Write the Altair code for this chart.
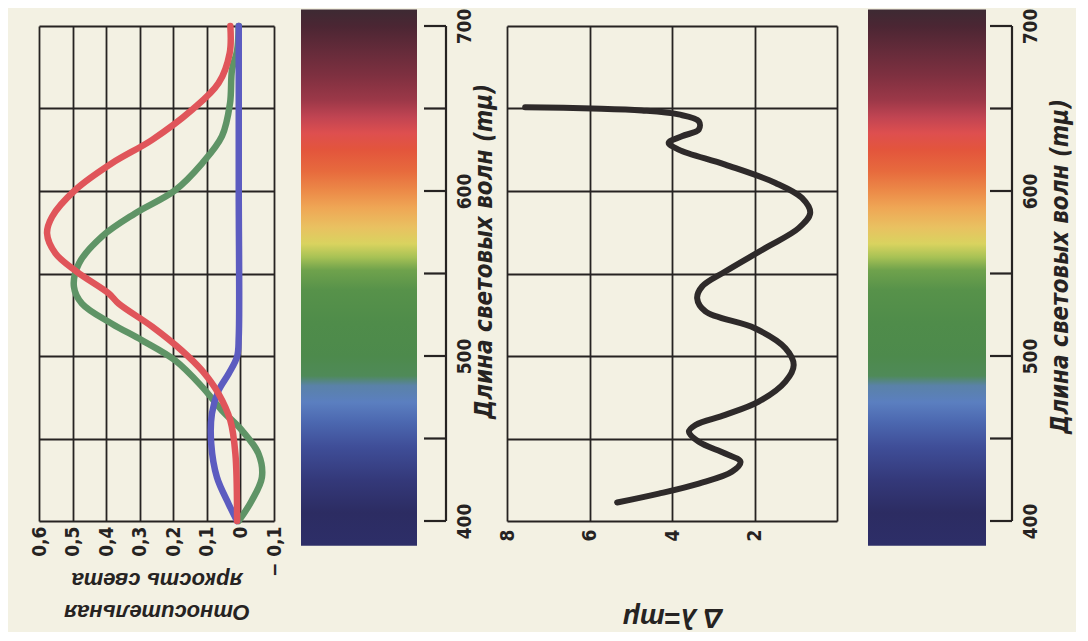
import altair as alt
import pandas as pd

# ---------------- data ----------------
# left panel: relative brightness of the three primaries vs wavelength (mμ)
red_nm = [700, 683.6, 665.4, 649.2, 631, 616.8, 600.6, 584.4, 574.3, 562.2, 551, 537.9,
          531.8, 517.8, 503.2, 491.1, 477.1, 460.9, 440.7, 400]
red_val = [0.030, 0.032, 0.065, 0.144, 0.263, 0.383, 0.492, 0.561, 0.576, 0.551, 0.487, 0.392,
           0.363, 0.263, 0.174, 0.114, 0.065, 0.030, 0.015, 0.010]

green_nm = [700, 685, 673.5, 653.2, 633.2, 616.8, 600.4, 586.4, 572.5, 556.1, 542.1, 531.8,
            519.6, 509.5, 497.4, 481.3, 467, 454.8, 440.7, 426.5, 412.4, 400]
green_val = [0.005, 0.010, 0.025, 0.031, 0.055, 0.114, 0.195, 0.314, 0.412, 0.481, 0.496, 0.472,
             0.383, 0.293, 0.195, 0.114, 0.055, -0.005, -0.054, -0.064, -0.034, 0.005]

blue_nm = [700, 600, 511.7, 499.6, 489.3, 479.1, 465, 446.8, 426.5, 410.3, 400]
blue_val = [0.005, 0.005, 0.005, 0.010, 0.035, 0.065, 0.085, 0.087, 0.070, 0.035, 0.010]

# middle panel: Δλ (mμ) vs wavelength
delta_nm = [650.8, 650.0, 648.8, 646.4, 642.3, 637.3, 633.2, 629.2, 625.1, 616.0, 604.9, 595.8,
            586.7, 577.5, 565.4, 551.2, 542.1, 535.0, 527.0, 516.8, 504.7, 494.6, 484.5, 472.3,
            464.3, 458.2, 454.1, 448.0, 440.9, 435.9, 429.8, 422.7, 416.6, 411.2]
delta_val = [7.56, 5.94, 4.73, 3.84, 3.35, 3.35, 3.76, 4.08, 3.84, 2.71, 1.49, 0.85,
             0.65, 0.93, 1.74, 2.71, 3.27, 3.39, 3.19, 1.99, 1.25, 1.05, 1.25, 1.90,
             2.71, 3.43, 3.59, 3.35, 2.71, 2.34, 2.55, 3.35, 4.32, 5.33]

# spectrum strip colours
spectrum_nm = [710, 700, 685, 670, 655, 645, 635, 625, 612, 600, 590, 578, 568, 560, 552,
               540, 520, 500, 488, 482, 472, 460, 445, 425, 405, 385]
spectrum_colors = ["#3d2a33", "#4b2633", "#652b3a", "#7e3040", "#9c3848", "#c04452", "#de4f4f",
                   "#e3553c", "#e76a3d", "#ec8a48", "#efa655", "#e9c161", "#d9d35f", "#a8c255",
                   "#6fa24c", "#57924a", "#4f8c4a", "#4d8a4c", "#4f8a58", "#5a82a8", "#5b7fc0",
                   "#4c68b0", "#3f4e98", "#34397a", "#2c2c62", "#2d2e68"]

nm_grid = [400, 450, 500, 550, 600, 650, 700]
nm_labels = [400, 500, 600, 700]
bright_ticks = [0.6, 0.5, 0.4, 0.3, 0.2, 0.1, 0.0, -0.1]
delta_ticks = [8, 6, 4, 2, 0]

# ---------------- styling ----------------
H = 495
BG = "#f3f1e3"
INK = "#262322"
NUM_FONT = "Liberation Sans Narrow, DejaVu Sans Condensed, sans-serif"
TITLE_FONT = "Liberation Sans Narrow, DejaVu Sans Condensed, sans-serif"

yscale = alt.Scale(domain=[400, 700], nice=False, zero=False)
grid_y_axis = alt.Axis(values=nm_grid, labels=False, ticks=False, domain=False, grid=True,
                       title=None, gridColor=INK, gridWidth=1.8, gridOpacity=1)

# ---------------- left panel ----------------
def curve(nm, val, color):
    df = pd.DataFrame({"nm": nm, "val": val, "i": range(len(nm))})
    return alt.Chart(df).mark_line(strokeWidth=6.5, interpolate="catmull-rom",
                                   strokeCap="round", color=color).encode(
        x=alt.X("val:Q",
                scale=alt.Scale(domain=[-0.1, 0.6], reverse=True, nice=False, zero=False),
                axis=alt.Axis(values=bright_ticks, grid=True, ticks=False, domain=False,
                              gridColor=INK, gridWidth=1.8, gridOpacity=1,
                              labelAngle=270, labelPadding=5, labelFont=NUM_FONT,
                              labelFontSize=19, labelFontWeight="bold", labelColor=INK,
                              labelExpr="datum.value == 0 ? '0' : (datum.value < 0 ? '\u2212 ' : '') + replace(format(abs(datum.value), '.1f'), '.', ',')",
                              title=["Относительная", "яркость света"], titleAngle=180,
                              titleBaseline="bottom", titleY=78, titleFont="Liberation Sans, sans-serif",
                              titleFontStyle="italic", titleFontWeight="bold", titleFontSize=22,
                              titleLineHeight=32, titleColor=INK)),
        y=alt.Y("nm:Q", scale=yscale, axis=grid_y_axis),
        order="i:Q",
    )

left = alt.layer(
    curve(green_nm, green_val, "#5f9466"),
    curve(blue_nm, blue_val, "#5c5cc0"),
    curve(red_nm, red_val, "#e0555a"),
).properties(width=235, height=H)

# ---------------- spectrum strips ----------------
TOP_NM, BOT_NM = spectrum_nm[0], spectrum_nm[-1]
gradient = alt.LinearGradient(
    gradient="linear", x1=0, x2=0, y1=0, y2=1,
    stops=[alt.GradientStop(color=c, offset=(TOP_NM - n) / (TOP_NM - BOT_NM))
           for n, c in zip(spectrum_nm, spectrum_colors)])

strip_df = pd.DataFrame({"top": [TOP_NM], "bottom": [BOT_NM]})
bracket_df = pd.DataFrame({"lo": [400], "hi": [700]})
ticks_df = pd.DataFrame({"nm": nm_grid})


def strip(x0, x1, bracket_x, width, offset, title_x, title_y):
    ax = alt.Axis(orient="right", values=nm_labels, domain=False, ticks=False,
                  grid=False, offset=offset, labelAngle=270, labelPadding=9,
                  labelFont=NUM_FONT, labelFontSize=19, labelFontWeight="bold",
                  labelColor=INK,
                  title="Длина световых волн (mμ)", titleAngle=270,
                  titleBaseline="top", titleX=title_x, titleY=title_y,
                  titleFont=TITLE_FONT, titleFontStyle="italic",
                  titleFontWeight="bold", titleFontSize=24, titleColor=INK)
    bar = alt.Chart(strip_df).mark_rect(fill=gradient, strokeWidth=0).encode(
        x=alt.value(x0), x2=alt.value(x1),
        y=alt.Y("top:Q", scale=yscale, axis=ax),
        y2="bottom:Q",
    )
    line = alt.Chart(bracket_df).mark_rule(strokeWidth=2.2, color=INK).encode(
        y=alt.Y("lo:Q", scale=yscale, axis=ax), y2="hi:Q", x=alt.value(bracket_x))
    tks = alt.Chart(ticks_df).mark_rule(strokeWidth=2.2, color=INK).encode(
        y=alt.Y("nm:Q", scale=yscale, axis=ax),
        x=alt.value(bracket_x - 22), x2=alt.value(bracket_x))
    return alt.layer(bar, line, tks).properties(width=width, height=H)


strip1 = strip(0, 116, 145, 179, -34, 26, 225)
strip2 = strip(4, 122, 148, 148, 0, 36, 240)

# ---------------- middle panel ----------------
delta_df = pd.DataFrame({"nm": delta_nm, "d": delta_val, "i": range(len(delta_nm))})
middle = alt.Chart(delta_df).mark_line(strokeWidth=6, interpolate="catmull-rom",
                                       strokeCap="round", color="#2e2a2a").encode(
    x=alt.X("d:Q", scale=alt.Scale(domain=[0, 8], reverse=True, nice=False, zero=False),
            axis=alt.Axis(values=delta_ticks, grid=True, ticks=False, domain=False,
                          gridColor=INK, gridWidth=1.8, gridOpacity=1,
                          labelAngle=270, labelPadding=8, labelFont=NUM_FONT,
                          labelFontSize=19, labelFontWeight="bold", labelColor=INK,
                          labelExpr="datum.value == 0 ? '' : datum.label",
                          title="Δ λ=mμ", titleAngle=180, titleBaseline="bottom", titleY=81,
                          titleFont="Liberation Sans, sans-serif", titleFontStyle="italic",
                          titleFontWeight="bold", titleFontSize=28, titleColor=INK)),
    y=alt.Y("nm:Q", scale=yscale, axis=grid_y_axis),
    order="i:Q",
).properties(width=330, height=H)

chart = alt.hconcat(left, strip1, middle, strip2, spacing=27, bounds="flush").properties(
    padding={"left": 22, "top": 0, "right": 4, "bottom": 2}
).configure(background=BG).configure_view(strokeWidth=0)

chart.save("out.html", embed_options={"renderer": "svg", "actions": False})
